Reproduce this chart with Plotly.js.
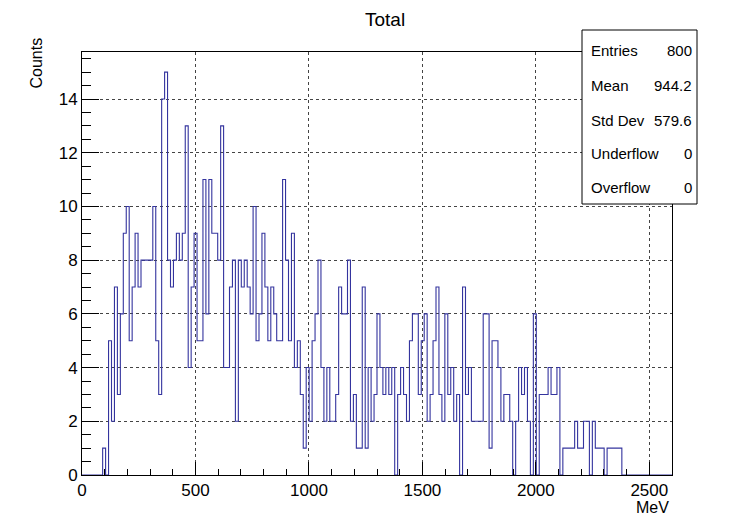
<!DOCTYPE html>
<html>
<head>
<meta charset="utf-8">
<script src="https://cdn.plot.ly/plotly-3.0.1.min.js"></script>
<style>
html,body{margin:0;padding:0;background:#fff;}
#chart{width:739px;height:518px;}
</style>
</head>
<body>
<div id="chart"></div>
<script>
// Histogram definition (ROOT TH1: 200 bins, 0..2600 MeV)
const binStart = 0;
const binWidth = 13;
const counts = [
0,0,0,0,0,0,0,
1,0,5,2,7,3,6,9,10,5,7,9,7,
8,8,8,8,10,5,3,14,15,8,
7,8,9,8,9,13,4,7,9,5,
5,11,6,11,9,9,8,13,4,4,
7,8,2,8,7,8,7,6,10,5,
6,9,7,5,7,6,5,5,11,8,
5,9,4,5,3,1,4,2,5,6,
8,4,2,4,2,2,3,7,6,6,
8,2,3,1,1,7,1,4,2,3,
6,4,3,4,3,4,0,3,4,3,
2,5,6,6,3,5,6,2,3,5,
7,3,2,6,3,4,2,3,0,7,
3,4,2,2,2,2,6,6,1,5,
5,4,2,3,3,2,0,2,4,3,
4,2,0,6,0,3,3,3,4,3,
3,4,0,1,1,1,1,2,1,1,
2,2,0,2,1,1,1,0,1,1,
1,1,1,0,0,0,0,0,0,0,
0,0,0,0,0,0,0,0,0,0
];
const xTickVals = [0, 500, 1000, 1500, 2000, 2500];
const yTickVals = [0, 2, 4, 6, 8, 10, 12, 14];
const titleText = "Total";
const xTitle = "MeV";
const yTitle = "Counts";
const statsLabels = ["Entries", "Mean", "Std Dev", "Underflow", "Overflow"];
const statsValues = ["800", "944.2", "579.6", "0", "0"];

// step outline through bin edges
const ex = [], ey = [];
for (let i = 0; i < counts.length; i++) {
  ex.push(binStart + i * binWidth);
  ey.push(counts[i]);
}
ex.push(binStart + counts.length * binWidth);
ey.push(counts[counts.length - 1]);
const xMax = binStart + counts.length * binWidth;

const W = 739, H = 518;
const M = {l: 82, r: 67, t: 52, b: 43};
const pw = W - M.l - M.r, ph = H - M.t - M.b;
const px = p => (p - M.l) / pw;
const py = p => (H - M.b - p) / ph;

const FONT = "Liberation Sans, Arial, Helvetica, sans-serif";

const trace = {
  type: 'scatter', mode: 'lines',
  x: ex, y: ey,
  line: {shape: 'hv', color: '#34349e', width: 1.1},
  hoverinfo: 'skip', showlegend: false
};

const annotations = [
  {text: titleText, xref: 'paper', yref: 'paper', x: px(385), y: py(19), xanchor: 'center', yanchor: 'middle', showarrow: false, font: {family: FONT, size: 19, color: '#000'}},
  {text: xTitle, xref: 'paper', yref: 'paper', x: px(671), y: py(507), xanchor: 'right', yanchor: 'middle', showarrow: false, font: {family: FONT, size: 16, color: '#000'}},
  {text: yTitle, xref: 'paper', yref: 'paper', x: px(36), y: py(36), xanchor: 'center', yanchor: 'top', textangle: -90, showarrow: false, font: {family: FONT, size: 16, color: '#000'}}
];
const rowY = [50, 85, 120, 153, 187];
for (let i = 0; i < statsLabels.length; i++) {
  annotations.push({text: statsLabels[i], xref: 'paper', yref: 'paper', x: px(589), y: py(rowY[i]), xanchor: 'left', yanchor: 'middle', showarrow: false, font: {family: FONT, size: 15, color: '#000'}});
  annotations.push({text: statsValues[i], xref: 'paper', yref: 'paper', x: px(694), y: py(rowY[i]), xanchor: 'right', yanchor: 'middle', showarrow: false, font: {family: FONT, size: 15, color: '#000'}});
}

const layout = {
  width: W, height: H,
  margin: {l: M.l, r: M.r, t: M.t, b: M.b, pad: 0},
  paper_bgcolor: '#fff', plot_bgcolor: '#fff',
  showlegend: false,
  xaxis: {
    range: [binStart, xMax], autorange: false,
    tickvals: xTickVals, ticktext: xTickVals.map(String),
    ticks: 'inside', ticklen: 13, tickcolor: '#000', tickwidth: 1,
    showline: true, linecolor: '#000', linewidth: 1, mirror: true,
    showgrid: true, gridcolor: '#444', griddash: 'dot', gridwidth: 1,
    zeroline: false,
    tickfont: {family: FONT, size: 17, color: '#000'},
    minor: {dtick: 100, ticks: 'inside', ticklen: 6, tickcolor: '#000', showgrid: false}
  },
  yaxis: {
    range: [0, 15.75], autorange: false,
    tickvals: yTickVals, ticktext: yTickVals.map(String),
    ticks: 'inside', ticklen: 17, tickcolor: '#000', tickwidth: 1,
    showline: true, linecolor: '#000', linewidth: 1, mirror: true,
    showgrid: true, gridcolor: '#444', griddash: 'dot', gridwidth: 1,
    zeroline: false,
    tickfont: {family: FONT, size: 17, color: '#000'},
    minor: {dtick: 0.5, ticks: 'inside', ticklen: 9, tickcolor: '#000', showgrid: false}
  },
  shapes: [
    {type: 'rect', xref: 'paper', yref: 'paper', x0: px(582), x1: px(697), y0: py(204), y1: py(30), fillcolor: '#fff', line: {color: '#000', width: 1}, layer: 'above'}
  ],
  annotations: annotations
};

Plotly.newPlot('chart', [trace], layout, {staticPlot: true, displayModeBar: false});
</script>
</body>
</html>
